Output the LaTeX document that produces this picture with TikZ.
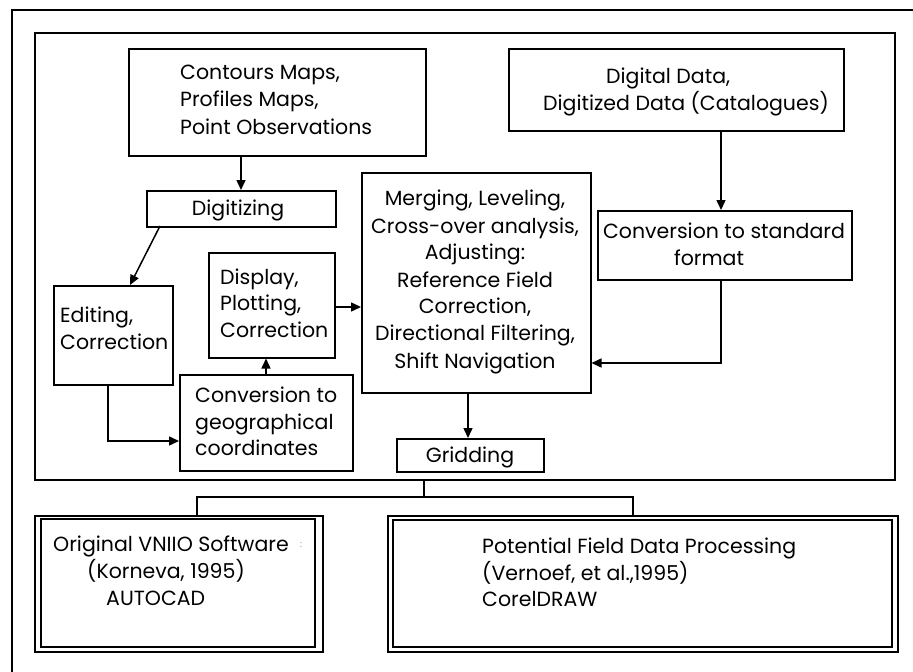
\documentclass[tikz,border=0pt]{standalone}
\usepackage{fontspec}
\setmainfont{Poppins}
\usetikzlibrary{arrows.meta}
\tikzset{
  box/.style={draw, line width=1.5pt, inner sep=0pt},
  lbl/.style={font=\fontsize{20.5}{27}\selectfont, inner sep=0pt, anchor=base west},
  clbl/.style={font=\fontsize{20.5}{27}\selectfont, inner sep=0pt, anchor=base},
  link/.style={line width=1.5pt},
  arr/.style={line width=1.5pt, -{Triangle[length=10pt,width=9pt]}},
}
\begin{document}
\begin{tikzpicture}[x=1pt,y=-1pt]
\useasboundingbox (0,0) rectangle (913,672);

% outer frame (open at right and bottom)
\draw[line width=1.5pt] (12,672) -- (12,10) -- (913,10);
% inner frame
\node[box, minimum width=860pt, minimum height=447pt, anchor=north west] (frame) at (34,32) {};

% source boxes
\node[box, minimum width=297pt, minimum height=107pt, anchor=north west] (maps) at (128,48) {};
\node[lbl] at (180,79) {Contours Maps,};
\node[lbl] at (180,106) {Profiles Maps,};
\node[lbl] at (180,134) {Point Observations};

\node[box, minimum width=335pt, minimum height=82pt, anchor=north west] (digdata) at (508,48) {};
\node[lbl] at (606,83) {Digital Data,};
\node[lbl] at (543,110) {Digitized Data (Catalogues)};

% processing boxes
\node[box, minimum width=189pt, minimum height=36pt, anchor=north west] (digit) at (146,190) {};
\node[clbl] at (238,215) {Digitizing};

\node[box, minimum width=254pt, minimum height=69pt, anchor=north west] (convstd) at (597,210) {};
\node[clbl] at (724,238) {Conversion to standard};
\node[clbl] at (709,265) {format};

\node[box, minimum width=229pt, minimum height=220pt, anchor=north west] (merge) at (361,172) {};
\node[clbl] at (475,205) {Merging, Leveling,};
\node[clbl] at (475,233) {Cross-over analysis,};
\node[clbl] at (475,259) {Adjusting:};
\node[clbl] at (475,287) {Reference Field};
\node[clbl] at (475,313) {Correction,};
\node[clbl] at (475,340) {Directional Filtering,};
\node[clbl] at (475,368) {Shift Navigation};

\node[box, minimum width=119pt, minimum height=99pt, anchor=north west] (edit) at (53,285) {};
\node[lbl] at (60,322) {Editing,};
\node[lbl] at (60,349) {Correction};

\node[box, minimum width=126pt, minimum height=105pt, anchor=north west] (display) at (208,252) {};
\node[lbl] at (220,284) {Display,};
\node[lbl] at (220,310) {Plotting,};
\node[lbl] at (220,337) {Correction};

\node[box, minimum width=173pt, minimum height=96pt, anchor=north west] (convgeo) at (179,374) {};
\node[lbl] at (195,402) {Conversion to};
\node[lbl] at (195,429) {geographical};
\node[lbl] at (195,455) {coordinates};

\node[box, minimum width=147pt, minimum height=33pt, anchor=north west] (grid) at (396,438) {};
\node[clbl] at (470,462) {Gridding};

% software boxes (double frames)
\node[box, minimum width=288pt, minimum height=136pt, anchor=north west] (vniio) at (34,515) {};
\draw[line width=1.1pt] (41,519) rectangle (315,647);
\node[lbl] at (53,551) {Original VNIIO Software};
\node[lbl] at (87,578) {(Korneva, 1995)};
\node[lbl] at (106,605) {AUTOCAD};
\node[font=\fontsize{9}{9}\selectfont, text=black!45, inner sep=0pt] (speck) at (301,545) {:};

\node[box, minimum width=510pt, minimum height=136pt, anchor=north west] (pfdp) at (387,515) {};
\draw[line width=1.1pt] (393,520) rectangle (892,647);
\node[lbl] at (482,553) {Potential Field Data Processing};
\node[lbl] at (482,580) {(Vernoef, et al.,1995)};
\node[lbl] at (482,606) {CorelDRAW};

% connectors
\draw[arr] (maps.south -| 241,0) -- (digit.north -| 241,0);
\draw[arr] (160,226) -- (130,285);
\draw[arr] (digdata.south -| 721,0) -- (convstd.north -| 721,0);
\draw[arr] (convstd.south -| 721,0) -- (721,363) -- (merge.east |- 0,363);
\draw[arr] (display.east |- 0,307) -- (merge.west |- 0,307);
\draw[arr] (convgeo.north -| 266,0) -- (display.south -| 266,0);
\draw[arr] (edit.south -| 108,0) -- (108,441) -- (convgeo.west |- 0,441);
\draw[arr] (merge.south -| 468,0) -- (grid.north -| 468,0);

% tree to the software boxes
\coordinate (fork) at (424,497);
\draw[link] (frame.south -| 424,0) -- (fork);
\draw[link] (vniio.north -| 197,0) -- (197,497) -- (633,497) -- (pfdp.north -| 633,0);
\end{tikzpicture}
\end{document}
